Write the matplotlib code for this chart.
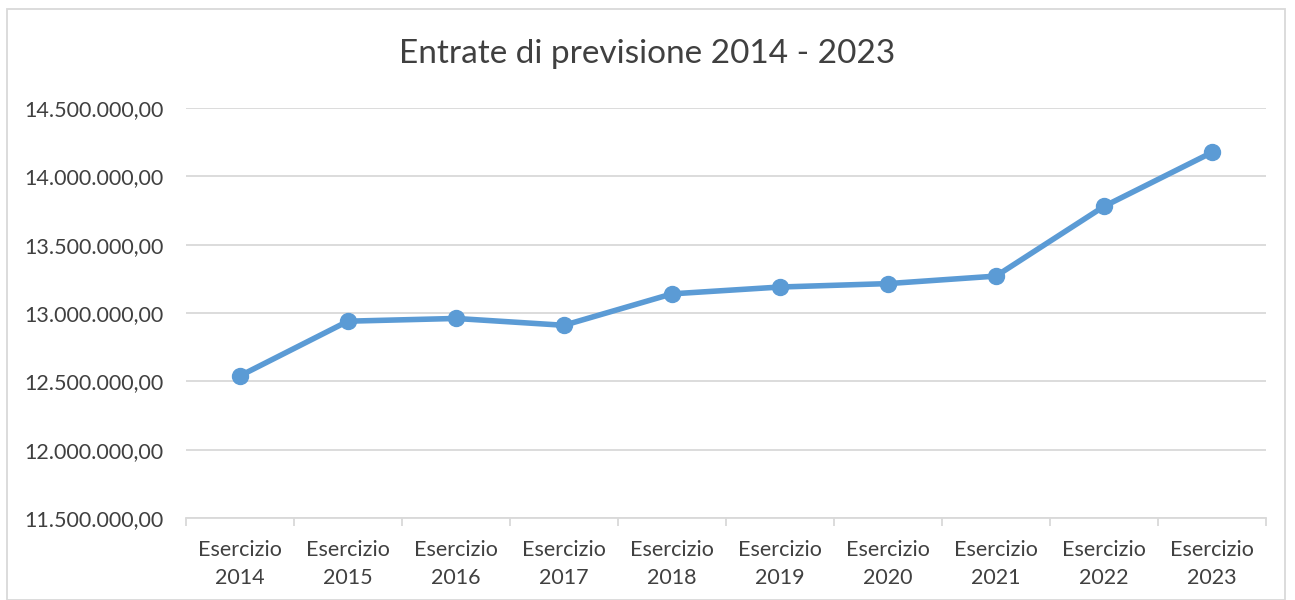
import matplotlib.pyplot as plt
from matplotlib.ticker import FuncFormatter, FixedLocator
from matplotlib.patches import Rectangle

#---------------------------Data---------------------------#
anni = ['2014', '2015', '2016', '2017', '2018', '2019', '2020', '2021', '2022', '2023']
entrate = [12540000, 12940000, 12960000, 12910000, 13140000,
           13190000, 13215000, 13270000, 13780000, 14175000]
etichette = ['Esercizio\n' + a for a in anni]
#----------------------------------------------------------#

plt.rcParams['font.family'] = ['Lato', 'DejaVu Sans']

#Formato italiano: punto per migliaia, virgola per decimali
def formato_it(v, pos):
    s = '{:,.2f}'.format(v)
    return s.replace(',', 'X').replace('.', ',').replace('X', '.')

fig = plt.figure(figsize=(12.95, 6), dpi=100)
ax = fig.add_axes([0.1436, 0.1367, 0.8340, 0.6833])

x = list(range(len(anni)))
ax.plot(x, entrate, color='#5B9BD5', linewidth=4, marker='o', markersize=11.5,
        solid_capstyle='round', zorder=3)

ax.set_xlim(-0.5, len(anni) - 0.5)
ax.set_ylim(11500000, 14500000)
ax.set_yticks([11500000 + 500000 * i for i in range(7)])
ax.yaxis.set_major_formatter(FuncFormatter(formato_it))
ax.grid(axis='y', color='#D9D9D9', linewidth=1.3)
ax.set_axisbelow(True)

ax.set_xticks(x)
ax.set_xticklabels(etichette, fontsize=15.5, color='#404040', linespacing=1.5)
ax.xaxis.set_minor_locator(FixedLocator([i - 0.5 for i in range(len(anni) + 1)]))
ax.tick_params(axis='x', which='major', length=0, pad=16)
ax.tick_params(axis='x', which='minor', length=6, color='#D9D9D9', width=1.3)
ax.tick_params(axis='y', length=0, labelsize=15.5, labelcolor='#404040', pad=16)

for s in ['top', 'right', 'left']:
    ax.spines[s].set_visible(False)
ax.spines['bottom'].set_color('#D9D9D9')
ax.spines['bottom'].set_linewidth(1.3)

fig.text(0.5, 0.91, 'Entrate di previsione 2014 - 2023', ha='center', va='center',
         fontsize=24, color='#404040')

#Bordo del grafico
fig.patches.append(Rectangle((7 / 1295, 0), 1278 / 1295, 591 / 600, transform=fig.transFigure,
                             fill=False, edgecolor='#D9D9D9', linewidth=1.3))

fig.savefig('out.png', dpi=100)
